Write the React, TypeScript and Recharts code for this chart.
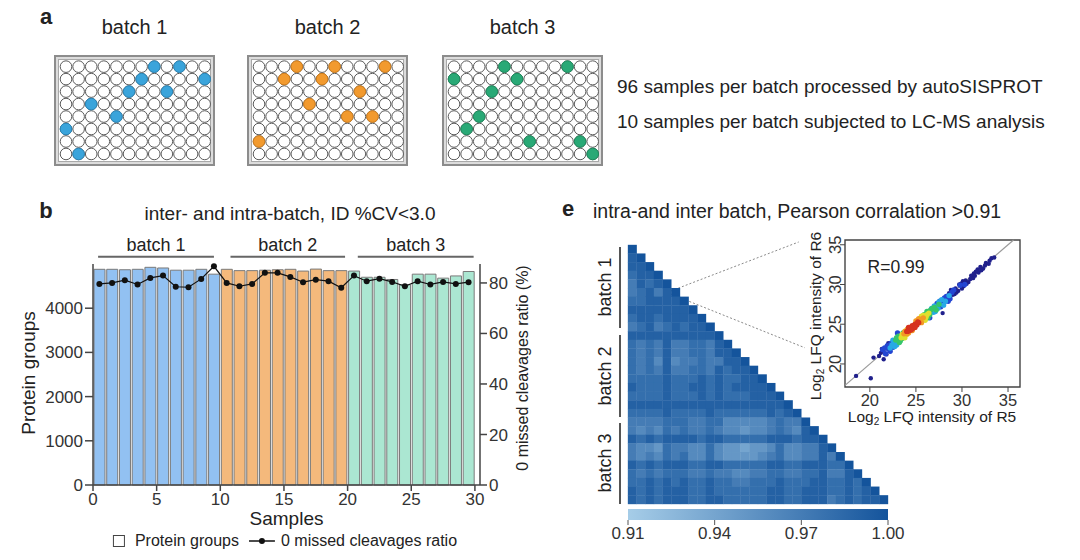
import React from "react";
import {
  ScatterChart,
  Scatter,
  ComposedChart,
  BarChart,
  Bar,
  Line,
  Cell,
  XAxis,
  YAxis,
  ReferenceLine,
  ReferenceArea,
} from "recharts";

const FONT = '"Liberation Sans", Arial, Helvetica, sans-serif';

// ---------- panel a: 96-well plates ----------
const plateCols = [1, 2, 3, 4, 5, 6, 7, 8, 9, 10, 11, 12];
const plateRows = [1, 2, 3, 4, 5, 6, 7, 8];
// [column, row] of the wells sent to LC-MS
const batch1Wells = [[8, 1], [10, 1], [7, 2], [12, 2], [6, 3], [9, 3], [3, 4], [5, 5], [1, 6], [2, 8]];
const batch2Wells = [[4, 1], [7, 1], [11, 1], [3, 2], [6, 2], [9, 3], [5, 4], [8, 5], [10, 5], [1, 7]];
const batch3Wells = [[5, 1], [10, 1], [1, 2], [6, 2], [4, 3], [3, 5], [2, 6], [7, 7], [11, 7], [12, 8]];
const plateNotes = [
  "96 samples per batch processed by autoSISPROT",
  "10 samples per batch subjected to LC-MS analysis",
];

// ---------- panel b ----------
const batchNames = ["batch 1", "batch 2", "batch 3"];
const batch1Protein = [4880, 4880, 4870, 4880, 4925, 4910, 4860, 4860, 4880, 4770];
const batch2Protein = [4880, 4850, 4850, 4860, 4870, 4880, 4840, 4885, 4850, 4850];
const batch3Protein = [4840, 4700, 4700, 4650, 4530, 4770, 4770, 4680, 4730, 4830];
const batch1Ratio = [79.6, 80.0, 81.1, 79.4, 82.0, 82.9, 78.5, 78.3, 81.6, 86.6];
const batch2Ratio = [80.0, 78.7, 79.6, 84.0, 84.0, 82.4, 80.3, 81.3, 80.7, 78.1];
const batch3Ratio = [82.9, 80.7, 81.7, 80.4, 78.7, 80.7, 79.4, 80.4, 79.6, 80.3];
const sampleTicks = [0, 5, 10, 15, 20, 25, 30];
const proteinTicks = [0, 1000, 2000, 3000, 4000];
const ratioTicks = [0, 20, 40, 60, 80];
const seriesNames = ["Protein groups", "0 missed cleavages ratio"];
const batchFills = ["#92c1f2", "#f4b97c", "#abe7d2"];

// ---------- panel e ----------
// correlation per cell, one digit per cell: r = 0.91 + digit * 0.01 (lower triangle, row by row)
const heatRows = [
  "9",
  "89",
  "889",
  "7889",
  "68789",
  "678689",
  "7788889",
  "88888889",
  "788788889",
  "6786787889",
  "88888888889",
  "767686677689",
  "7676866776889",
  "76758566766889",
  "767686677687889",
  "7777877787877889",
  "87778778878788889",
  "777787778787778889",
  "8888888888888888889",
  "77778777787777778789",
  "666677766775555567669",
  "6565767667655455676589",
  "87878888788777778887889",
  "655476655754434457556689",
  "6565767557544445675566869",
  "87878887788777778877888779",
  "767677766766556677667786689",
  "7787878778776677787778877879",
  "87878887787777778877888778789",
  "878788877887777788778886787889",
];
const colorbarTicks = [0.91, 0.94, 0.97, 1.0];

// inset: log2 LFQ intensity R5 (x) vs R6 (y), grouped by point density
const densityNavy = [[28.6, 28.9], [29.0, 28.7], [29.3, 29.5], [29.6, 29.2], [29.9, 30.1], [30.2, 29.8], [30.4, 30.5], [30.7, 30.3], [31.0, 31.1], [31.2, 30.8], [31.5, 31.6], [31.8, 31.5], [32.0, 32.2], [32.3, 32.0], [32.6, 32.7], [32.9, 32.6], [33.2, 33.3], [30.0, 29.5], [31.3, 31.4], [29.2, 28.8], [21.5, 20.6], [20.4, 20.8], [18.5, 18.5], [20.1, 18.2], [27.9, 26.4], [22.0, 22.6], [21.8, 21.2], [21.2, 21.4], [28.8, 29.3], [29.4, 29.0], [29.7, 30.0], [30.1, 30.4], [30.5, 30.1], [30.9, 30.7], [31.4, 31.1], [31.7, 31.9], [32.1, 31.8], [32.5, 32.4], [33.0, 33.0], [33.5, 33.4], [28.3, 28.0], [21.0, 21.0], [21.3, 21.9]];
const densityBlue = [[21.4, 21.8], [21.7, 21.3], [22.0, 21.9], [22.3, 22.6], [22.5, 22.1], [27.6, 27.9], [28.0, 27.6], [28.3, 28.5], [28.7, 28.2], [29.1, 29.3], [23.0, 23.9], [26.5, 25.8], [29.8, 29.9], [30.3, 30.0], [21.9, 22.3], [22.2, 21.6], [27.3, 27.6], [27.7, 27.2], [28.1, 28.3], [28.5, 27.9], [28.9, 29.0], [21.6, 22.0]];
const densityCyan = [[22.2, 22.0], [22.6, 22.8], [22.9, 22.4], [27.0, 27.3], [27.4, 27.0], [27.8, 28.1], [28.2, 27.9], [28.6, 28.6], [26.9, 26.5], [23.0, 22.8], [22.4, 22.4], [22.7, 22.2], [26.7, 27.0], [27.1, 26.6], [27.5, 27.8], [28.0, 27.4], [22.5, 23.0]];
const densityGreen = [[22.8, 23.0], [23.1, 23.5], [23.3, 22.9], [26.2, 26.6], [26.5, 26.2], [26.8, 27.0], [27.2, 26.8], [27.5, 27.5], [23.6, 23.9], [26.0, 25.7], [22.9, 23.3], [23.2, 22.7], [25.9, 26.2], [26.3, 25.8], [26.6, 26.8], [27.0, 27.1], [23.5, 23.2]];
const densityYellow = [[23.4, 23.3], [23.7, 23.4], [25.8, 26.1], [26.1, 25.9], [26.4, 26.4], [23.9, 24.2], [25.5, 25.7], [23.5, 23.7], [23.8, 23.3], [25.6, 26.0], [26.0, 25.5], [26.2, 26.2], [24.0, 23.7]];
const densityOrange = [[23.7, 23.8], [24.0, 23.8], [25.2, 25.5], [25.5, 25.3], [25.8, 25.8], [24.1, 24.4], [23.8, 24.1], [24.2, 23.9], [25.3, 25.7], [25.6, 25.2], [25.0, 25.4], [24.6, 24.2]];
const densityRed = [[24.0, 24.1], [24.3, 24.2], [24.5, 24.6], [24.7, 24.5], [24.9, 25.0], [25.1, 24.9], [24.4, 24.5], [24.8, 24.8], [25.3, 25.2], [24.2, 24.3], [24.2, 24.6], [24.6, 24.8], [24.9, 24.6], [25.2, 25.3], [24.5, 24.3], [24.1, 24.1]];
const lfqTicks = [20, 25, 30, 35];

// ---------- helpers ----------
const CB_LIGHT = [166, 205, 232];
const CB_DARK = [20, 84, 156];
function heatColor(v: number) {
  const t = Math.max(0, Math.min(1, (v - 0.91) / 0.09));
  const c = CB_LIGHT.map((l, k) => Math.round(l + (CB_DARK[k] - l) * t));
  return `rgb(${c.join(",")})`;
}

function Txt({ x, y, size, children, bold, rotate, anchor }: any) {
  const tx = anchor === "start" ? "0" : "-50%";
  return (
    <div
      style={{
        position: "absolute",
        left: x,
        top: y,
        fontSize: size,
        fontWeight: bold ? "bold" : "normal",
        lineHeight: 1,
        whiteSpace: "nowrap",
        transform: `translate(${tx},-50%)${rotate ? " rotate(-90deg)" : ""}`,
      }}
    >
      {children}
    </div>
  );
}

const wellShape = (fill: string, stroke: string) => (p: any) =>
  <circle cx={p.cx} cy={p.cy} r={5.8} fill={fill} stroke={stroke} strokeWidth={1} />;

const allWells = plateRows.flatMap((r) => plateCols.map((c) => ({ x: c, y: r })));

function Plate({ left, title, wells, color, edge }: any) {
  const picked = wells.map(([c, r]: number[]) => ({ x: c, y: r }));
  return (
    <>
      <Txt x={left + 80.5} y={27} size={20}>{title}</Txt>
      <div style={{ position: "absolute", left, top: 55, width: 161, height: 111, boxSizing: "border-box", border: "2px solid #8c8c8c", background: "#dcdcdc" }}>
        <div style={{ position: "absolute", left: 2, top: 2, right: 2, bottom: 2, border: "1px solid #a8a8a8", background: "#fff" }} />
      </div>
      <div style={{ position: "absolute", left, top: 55 }}>
        <ScatterChart width={161} height={111} margin={{ top: 5.4, right: 4, bottom: 5.8, left: 5.7 }}>
          <XAxis type="number" dataKey="x" domain={[0.5, 12.5]} hide />
          <YAxis type="number" dataKey="y" domain={[0.5, 8.5]} reversed hide />
          <Scatter data={allWells} shape={wellShape("#fff", "#5a5a5a")} isAnimationActive={false} />
          <Scatter data={picked} shape={wellShape(color, edge)} isAnimationActive={false} />
        </ScatterChart>
      </div>
    </>
  );
}

function PanelB() {
  const protein = [...batch1Protein, ...batch2Protein, ...batch3Protein];
  const ratio = [...batch1Ratio, ...batch2Ratio, ...batch3Ratio];
  const data = protein.map((p, i) => ({ x: i + 0.5, protein: p, ratio: ratio[i], batch: Math.floor(i / 10) }));
  const bracketY = 5165;
  const brackets = [[0.4, 9.5], [10.8, 19.8], [20.8, 29.9]];
  const axisStyle = { stroke: "#444", strokeWidth: 1.5 };
  const tickStyle = { fontSize: 17, fill: "#333" };
  return (
    <div style={{ position: "absolute", left: 0, top: 180 }}>
      <ComposedChart width={560} height={350} data={data} margin={{ top: 84, right: 40, bottom: 0, left: 43 }}>
        <XAxis
          type="number"
          dataKey="x"
          domain={[0, 30.4]}
          ticks={sampleTicks}
          allowDataOverflow
          height={45}
          tickSize={6}
          axisLine={axisStyle}
          tickLine={axisStyle}
          tick={tickStyle}
          label={{ value: "Samples", position: "insideBottom", offset: 5, fontSize: 19, fill: "#222" }}
        />
        <YAxis yAxisId="left" domain={[0, 5000]} ticks={proteinTicks} width={50} tickSize={8} axisLine={axisStyle} tickLine={axisStyle} tick={tickStyle} />
        <YAxis yAxisId="right" orientation="right" domain={[0, 87.5]} ticks={ratioTicks} width={40} tickSize={7} axisLine={axisStyle} tickLine={axisStyle} tick={tickStyle} />
        <Bar yAxisId="left" dataKey="protein" name={seriesNames[0]} barSize={11} stroke="#7a7a7a" strokeWidth={1} isAnimationActive={false}>
          {data.map((d, i) => (
            <Cell key={i} fill={batchFills[d.batch]} />
          ))}
        </Bar>
        <Line
          yAxisId="right"
          type="linear"
          dataKey="ratio"
          name={seriesNames[1]}
          stroke="#111"
          strokeWidth={1.2}
          dot={{ r: 3, fill: "#111", stroke: "none" }}
          isAnimationActive={false}
        />
        {brackets.map(([a, b], i) => (
          <ReferenceLine
            key={i}
            yAxisId="left"
            segment={[{ x: a, y: bracketY }, { x: b, y: bracketY }]}
            stroke="#666"
            strokeWidth={2}
            ifOverflow="visible"
            label={{ value: batchNames[i], position: "top", offset: 6, fontSize: 18, fill: "#222" }}
          />
        ))}
      </ComposedChart>
    </div>
  );
}

function Heatmap() {
  const cells = heatRows.flatMap((s, i) =>
    s.split("").map((d, j) => ({ x: j + 0.5, y: i + 0.5, r: 0.91 + Number(d) * 0.01 }))
  );
  const cellShape = (p: any) => (
    <rect x={p.cx - 4.5} y={p.cy - 4.5} width={9} height={9} fill={heatColor(p.payload.r)} />
  );
  return (
    <div style={{ position: "absolute", left: 560, top: 230 }}>
      <ScatterChart width={340} height={290} margin={{ top: 15, right: 12, bottom: 16, left: 68 }}>
        <XAxis type="number" dataKey="x" domain={[0, 30]} hide />
        <YAxis type="number" dataKey="y" domain={[0, 30]} reversed hide />
        <Scatter data={cells} shape={cellShape} isAnimationActive={false} />
        <ReferenceLine segment={[{ x: 4.5, y: 5.5 }, { x: 19.7, y: -0.35 }]} stroke="#8a8a8a" strokeDasharray="2 2" ifOverflow="visible" />
        <ReferenceLine segment={[{ x: 4.5, y: 5.5 }, { x: 20.4, y: 11.9 }]} stroke="#8a8a8a" strokeDasharray="2 2" ifOverflow="visible" />
      </ScatterChart>
    </div>
  );
}

function Colorbar() {
  const data = [{ name: "r", range: [colorbarTicks[0], colorbarTicks[colorbarTicks.length - 1]] }];
  const light = `rgb(${CB_LIGHT.join(",")})`;
  const dark = `rgb(${CB_DARK.join(",")})`;
  return (
    <div style={{ position: "absolute", left: 560, top: 505 }}>
      <BarChart width={370} height={48} data={data} layout="vertical" barCategoryGap={0} margin={{ top: 4, right: 42, bottom: 0, left: 68 }}>
        <defs>
          <linearGradient id="cbGrad" x1="0" y1="0" x2="1" y2="0">
            <stop offset="0%" stopColor={light} />
            <stop offset="100%" stopColor={dark} />
          </linearGradient>
        </defs>
        <XAxis
          type="number"
          domain={[0.91, 1.0]}
          ticks={colorbarTicks}
          tickFormatter={(v: number) => v.toFixed(2)}
          axisLine={false}
          tickSize={5}
          tickLine={{ stroke: "#555" }}
          tick={{ fontSize: 17, fill: "#333" }}
          height={33}
          interval={0}
          allowDataOverflow
        />
        <YAxis type="category" dataKey="name" hide />
        <Bar dataKey="range" fill="url(#cbGrad)" isAnimationActive={false} />
      </BarChart>
    </div>
  );
}

const RotTick = (p: any) => (
  <text x={p.x + 3} y={p.y} transform={`rotate(-90 ${p.x + 3} ${p.y})`} textAnchor="middle" fontSize={16.5} fill="#333">
    {p.payload.value}
  </text>
);

function Inset() {
  const groups = [
    { pts: densityNavy, c: "#20208c" },
    { pts: densityBlue, c: "#2446d2" },
    { pts: densityCyan, c: "#27a9e6" },
    { pts: densityGreen, c: "#36c66a" },
    { pts: densityYellow, c: "#dfe02e" },
    { pts: densityOrange, c: "#f39a24" },
    { pts: densityRed, c: "#d6321f" },
  ];
  return (
    <div style={{ position: "absolute", left: 790, top: 230 }}>
      <ScatterChart width={240} height={200} margin={{ top: 10, right: 10, bottom: 18, left: 25 }}>
        <XAxis
          type="number"
          dataKey="x"
          domain={[17.3, 36.3]}
          ticks={lfqTicks}
          allowDataOverflow
          axisLine={false}
          tickSize={5}
          tickLine={{ stroke: "#444" }}
          tick={{ fontSize: 16.5, fill: "#333" }}
          height={25}
        />
        <YAxis
          type="number"
          dataKey="y"
          domain={[17.1, 35.6]}
          ticks={lfqTicks}
          allowDataOverflow
          axisLine={false}
          tickSize={5}
          tickLine={{ stroke: "#444" }}
          tick={RotTick}
          width={30}
        />
        <ReferenceArea x1={17.3} x2={36.3} y1={17.1} y2={35.6} fill="none" stroke="#444" strokeWidth={1.4} ifOverflow="visible" />
        <ReferenceLine segment={[{ x: 17.3, y: 17.3 }, { x: 35.6, y: 35.6 }]} stroke="#9a9a9a" strokeWidth={1.2} ifOverflow="visible" />
        {groups.map((g, i) => (
          <Scatter
            key={i}
            data={g.pts.map(([x, y]) => ({ x, y }))}
            shape={(p: any) => <circle cx={p.cx} cy={p.cy} r={i === 0 ? 2.2 : 2.7} fill={g.c} />}
            isAnimationActive={false}
          />
        ))}
      </ScatterChart>
    </div>
  );
}

const Log2 = ({ rest }: { rest: string }) => (
  <span>
    Log<sub style={{ fontSize: "0.65em", verticalAlign: "-0.25em" }}>2</sub> {rest}
  </span>
);

export default function App() {
  return (
    <div
      style={{
        position: "absolute",
        left: 0,
        top: 0,
        width: 1080,
        height: 560,
        background: "#fff",
        color: "#222",
        fontFamily: FONT,
        overflow: "hidden",
      }}
    >
      {/* panel a */}
      <Txt x={46} y={17} size={22} bold>a</Txt>
      <Plate left={54} title={batchNames[0]} wells={batch1Wells} color="#3aa4db" edge="#2a86b8" />
      <Plate left={247} title={batchNames[1]} wells={batch2Wells} color="#f29a2e" edge="#cf7d1c" />
      <Plate left={442} title={batchNames[2]} wells={batch3Wells} color="#29a976" edge="#1d8a5d" />
      <Txt x={617} y={86} size={19} anchor="start">{plateNotes[0]}</Txt>
      <Txt x={617} y={121} size={19} anchor="start">{plateNotes[1]}</Txt>

      {/* panel b */}
      <Txt x={46} y={211} size={22} bold>b</Txt>
      <Txt x={290} y={213} size={19}>inter- and intra-batch, ID %CV&lt;3.0</Txt>
      <PanelB />
      <Txt x={28} y={373} size={19} rotate>Protein groups</Txt>
      <Txt x={523} y={368} size={16} rotate>0 missed cleavages ratio (%)</Txt>
      <div
        style={{
          position: "absolute",
          left: 285,
          top: 541,
          transform: "translate(-50%,-50%)",
          display: "flex",
          alignItems: "center",
          fontSize: 16,
          whiteSpace: "nowrap",
          lineHeight: 1,
        }}
      >
        <span style={{ display: "inline-block", width: 10, height: 10, border: "1.5px solid #444", marginRight: 10 }} />
        {seriesNames[0]}
        <svg width={26} height={10} style={{ margin: "0 6px 0 10px" }}>
          <line x1={0} y1={5} x2={26} y2={5} stroke="#111" strokeWidth={1.5} />
          <circle cx={13} cy={5} r={3} fill="#111" />
        </svg>
        {seriesNames[1]}
      </div>

      {/* panel e */}
      <Txt x={568} y={209} size={22} bold>e</Txt>
      <Txt x={593} y={212} size={19.5} anchor="start">intra-and inter batch, Pearson corralation &gt;0.91</Txt>
      <Heatmap />
      <Colorbar />
      {[[287, 247, 81], [376, 335, 82], [463, 423, 81]].map(([cy, top, h], i) => (
        <React.Fragment key={i}>
          <Txt x={605} y={cy} size={18} rotate>{batchNames[i]}</Txt>
          <div style={{ position: "absolute", left: 619, top, width: 2, height: h, background: "#555" }} />
        </React.Fragment>
      ))}
      <Inset />
      <Txt x={896} y={268} size={17.5}>R=0.99</Txt>
      <Txt x={817} y={316} size={15.5} rotate><Log2 rest="LFQ intensity of R6" /></Txt>
      <Txt x={932} y={418} size={15.5}><Log2 rest="LFQ intensity of R5" /></Txt>
    </div>
  );
}
